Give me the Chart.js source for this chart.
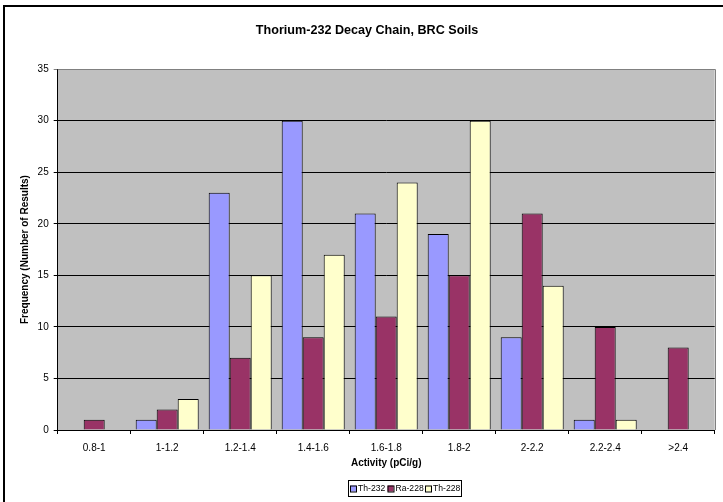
<!DOCTYPE html>
<html>
<head>
<meta charset="utf-8">
<script src="https://cdn.jsdelivr.net/npm/chart.js@4/dist/chart.umd.min.js"></script>
<style>
    html, body { margin: 0; padding: 0; background: #fff; }
    #chart { display: block; }
</style>
</head>
<body>
<canvas id="chart" width="723" height="502"></canvas>
<script>
const categories = ['0.8-1', '1-1.2', '1.2-1.4', '1.4-1.6', '1.6-1.8', '1.8-2', '2-2.2', '2.2-2.4', '>2.4'];
const th232 = [0, 1, 23, 30, 21, 19, 9, 1, 0];
const ra228 = [1, 2, 7, 9, 11, 15, 21, 10, 8];
const th228 = [0, 3, 15, 17, 24, 30, 14, 1, 0];
const seriesLabels = ['Th-232', 'Ra-228', 'Th-228'];
const seriesColors = ['#9999FF', '#993366', '#FFFFCC'];
const yMax = 35;
const yStep = 5;

const font = 'Liberation Sans, Arial, sans-serif';

// grey plot background, outer frame, grey top/right plot border
const plotArea = {
    id: 'plotArea',
    beforeDraw(chart) {
        const ctx = chart.ctx;
        const a = chart.chartArea;
        ctx.save();
        ctx.fillStyle = '#000';
        ctx.fillRect(3, 5, 2, chart.height);
        ctx.fillRect(3, 5, chart.width, 2);
        ctx.fillStyle = '#C0C0C0';
        ctx.fillRect(a.left, a.top, a.right - a.left, a.bottom - a.top);
        ctx.restore();
    },
    afterDraw(chart) {
        const ctx = chart.ctx;
        const a = chart.chartArea;
        ctx.save();
        ctx.strokeStyle = '#808080';
        ctx.lineWidth = 1;
        ctx.beginPath();
        ctx.moveTo(a.left, Math.round(a.top) + 0.5);
        ctx.lineTo(Math.round(a.right) + 0.5, Math.round(a.top) + 0.5);
        ctx.lineTo(Math.round(a.right) + 0.5, a.bottom);
        ctx.stroke();
        ctx.restore();
    }
};

// boxed legend under the axis title
const boxLegend = {
    id: 'boxLegend',
    afterDraw(chart) {
        const ctx = chart.ctx;
        const x0 = 348, y0 = 480, w = 113, h = 16;
        const itemX = [350, 387.5, 425];
        ctx.save();
        ctx.strokeStyle = '#000';
        ctx.lineWidth = 1;
        ctx.strokeRect(x0 + 0.5, y0 + 0.5, w, h);
        ctx.font = '8.6px ' + font;
        ctx.textBaseline = 'middle';
        const cy = y0 + h / 2 + 0.5;
        chart.data.datasets.forEach((ds, i) => {
            const x = itemX[i];
            ctx.fillStyle = ds.backgroundColor;
            ctx.fillRect(x, cy - 3, 6, 6);
            ctx.strokeRect(x + 0.5, cy - 3 + 0.5, 6, 6);
            ctx.fillStyle = '#000';
            ctx.fillText(ds.label, x + 8, cy);
        });
        ctx.restore();
    }
};

const datasets = [th232, ra228, th228].map((data, i) => ({
    label: seriesLabels[i],
    data: data,
    backgroundColor: seriesColors[i],
    borderColor: '#000',
    borderWidth: 1,
    borderSkipped: 'bottom',
    categoryPercentage: 0.863,
    barPercentage: 1
}));

new Chart(document.getElementById('chart'), {
    type: 'bar',
    data: { labels: categories, datasets: datasets },
    options: {
        responsive: false,
        animation: false,
        devicePixelRatio: 1,
        layout: { padding: { left: 19.5, right: 8.3, top: 0, bottom: 0 } },
        scales: {
            x: {
                offset: true,
                grid: {
                    offset: true,
                    drawOnChartArea: false,
                    drawTicks: true,
                    tickLength: 4,
                    color: '#000'
                },
                border: { display: true, color: '#000', width: 1 },
                ticks: {
                    color: '#000',
                    font: { family: font, size: 10 },
                    padding: 8,
                    maxRotation: 0,
                    autoSkip: false
                },
                title: {
                    display: true,
                    text: 'Activity (pCi/g)',
                    color: '#000',
                    font: { family: font, size: 10, weight: 'bold' },
                    padding: { top: 0, bottom: 33 }
                },
                afterFit(scale) { scale.height = 72; }
            },
            y: {
                min: 0,
                max: yMax,
                grid: {
                    color: ctx => ctx.tick && ctx.tick.value === yMax ? '#808080' : '#000',
                    lineWidth: 1,
                    drawTicks: true,
                    tickLength: 4
                },
                border: { display: true, color: '#000', width: 1 },
                ticks: {
                    stepSize: yStep,
                    color: '#000',
                    font: { family: font, size: 10 },
                    padding: 5
                },
                title: {
                    display: true,
                    text: 'Frequency (Number of Results)',
                    color: '#000',
                    font: { family: font, size: 10, weight: 'bold' },
                    padding: { top: 0, bottom: 0 }
                },
                afterFit(scale) { scale.width = 38.2; }
            }
        },
        plugins: {
            legend: { display: false },
            tooltip: { enabled: false },
            title: {
                display: true,
                text: 'Thorium-232 Decay Chain, BRC Soils',
                color: '#000',
                font: { family: font, size: 12.6, weight: 'bold' },
                padding: { top: 23, bottom: 31 }
            }
        }
    },
    plugins: [plotArea, boxLegend]
});
</script>
</body>
</html>
